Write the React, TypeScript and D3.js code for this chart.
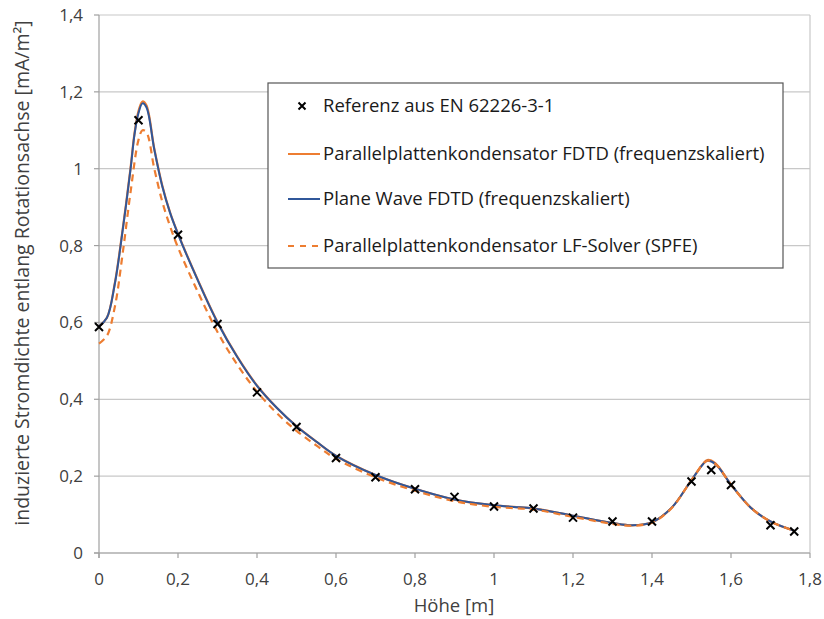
import React from "react";
import * as d3 from "d3";

const refX = [0, 0.1, 0.2, 0.3, 0.4, 0.5, 0.6, 0.7, 0.8, 0.9, 1.0, 1.1, 1.2, 1.3, 1.4, 1.5, 1.55, 1.6, 1.7, 1.76];
const refY = [0.588, 1.126, 0.828, 0.596, 0.418, 0.328, 0.247, 0.197, 0.166, 0.146, 0.121, 0.116, 0.092, 0.082, 0.082, 0.186, 0.216, 0.177, 0.072, 0.056];

const pwX = [0, 0.02, 0.04, 0.06, 0.08, 0.09, 0.1, 0.11, 0.12, 0.14, 0.16, 0.18, 0.2, 0.25, 0.3, 0.35, 0.4, 0.45, 0.5, 0.55, 0.6, 0.7, 0.8, 0.9, 1.0, 1.05, 1.1, 1.2, 1.3, 1.35, 1.4, 1.45, 1.5, 1.53, 1.54, 1.56, 1.6, 1.65, 1.7, 1.76];
const pwY = [0.59, 0.612, 0.7, 0.84, 1.0, 1.09, 1.145, 1.17, 1.16, 1.05, 0.955, 0.885, 0.83, 0.71, 0.6, 0.51, 0.435, 0.378, 0.33, 0.29, 0.253, 0.203, 0.167, 0.139, 0.124, 0.12, 0.116, 0.097, 0.078, 0.072, 0.08, 0.118, 0.19, 0.232, 0.24, 0.232, 0.178, 0.118, 0.082, 0.058];
const ppY = [0.59, 0.612, 0.702, 0.843, 1.003, 1.093, 1.15, 1.175, 1.165, 1.052, 0.957, 0.886, 0.831, 0.711, 0.601, 0.511, 0.436, 0.378, 0.33, 0.29, 0.253, 0.203, 0.167, 0.139, 0.124, 0.12, 0.116, 0.097, 0.078, 0.072, 0.08, 0.118, 0.19, 0.233, 0.242, 0.234, 0.178, 0.118, 0.082, 0.058];

const lfX = [0, 0.02, 0.04, 0.06, 0.08, 0.1, 0.11, 0.12, 0.14, 0.16, 0.18, 0.2, 0.25, 0.3, 0.35, 0.4, 0.45, 0.5, 0.55, 0.6, 0.7, 0.8, 0.9, 1.0, 1.1, 1.2, 1.3, 1.35, 1.4, 1.45, 1.5, 1.54, 1.56, 1.6, 1.65, 1.7, 1.76];
const lfY = [0.545, 0.565, 0.64, 0.78, 0.94, 1.075, 1.1, 1.095, 1.0, 0.915, 0.85, 0.795, 0.68, 0.575, 0.49, 0.42, 0.364, 0.318, 0.28, 0.245, 0.197, 0.162, 0.135, 0.12, 0.113, 0.094, 0.076, 0.071, 0.079, 0.117, 0.19, 0.24, 0.232, 0.178, 0.118, 0.082, 0.058];

const xTicks = [0, 0.2, 0.4, 0.6, 0.8, 1, 1.2, 1.4, 1.6, 1.8];
const yTicks = [0, 0.2, 0.4, 0.6, 0.8, 1, 1.2, 1.4];

const legendLabels = [
  "Referenz aus EN 62226-3-1",
  "Parallelplattenkondensator FDTD (frequenzskaliert)",
  "Plane Wave FDTD (frequenzskaliert)",
  "Parallelplattenkondensator LF-Solver (SPFE)",
];

const fmt = (v: number) => String(Math.round(v * 10) / 10).replace(".", ",");

export default function App() {
  const W = 824, H = 619;
  const left = 99, right = 810, top = 15, bottom = 553;
  const x = d3.scaleLinear().domain([0, 1.8]).range([left, right]);
  const y = d3.scaleLinear().domain([0, 1.4]).range([bottom, top]);
  const line = d3.line<[number, number]>().x(d => x(d[0])).y(d => y(d[1])).curve(d3.curveCatmullRom.alpha(0.5));
  const pw = line(pwX.map((v, i) => [v, pwY[i]] as [number, number])) || "";
  const pp = line(pwX.map((v, i) => [v, ppY[i]] as [number, number])) || "";
  const lf = line(lfX.map((v, i) => [v, lfY[i]] as [number, number])) || "";
  const font = "Open Sans, sans-serif";
  const orange = "#ED7D31";
  const blue = "#30579A";
  const textCol = "#404040";
  const cross = (cx: number, cy: number, k: number, s = 4) => (
    <path key={k} d={`M${cx - s},${cy - s}L${cx + s},${cy + s}M${cx - s},${cy + s}L${cx + s},${cy - s}`} stroke="#000" strokeWidth={2} />
  );
  const legRows = [106, 154, 199, 246];
  return (
    <svg width={W} height={H} style={{ position: "absolute", left: 0, top: 0, background: "#fff" }} fontFamily={font}>
      <rect x={0} y={0} width={W} height={H} fill="#fff" />
      {yTicks.map(t => (
        <line key={"g" + t} x1={left} x2={right} y1={y(t)} y2={y(t)} stroke="#c8c8c8" strokeWidth={1.2} />
      ))}
      <line x1={right} x2={right} y1={top} y2={bottom} stroke="#c8c8c8" strokeWidth={1.2} />
      <line x1={left} x2={left} y1={top} y2={bottom + 5} stroke="#a0a0a0" strokeWidth={1.2} />
      <line x1={left - 5} x2={right} y1={bottom} y2={bottom} stroke="#a0a0a0" strokeWidth={1.2} />
      {yTicks.map(t => (
        <g key={"y" + t}>
          <line x1={left - 5} x2={left} y1={y(t)} y2={y(t)} stroke="#a0a0a0" strokeWidth={1.2} />
          <text x={83} y={y(t) + 6} textAnchor="end" fontSize={17} fill={textCol}>{fmt(t)}</text>
        </g>
      ))}
      {xTicks.map(t => (
        <g key={"x" + t}>
          <line x1={x(t)} x2={x(t)} y1={bottom} y2={bottom + 5} stroke="#a0a0a0" strokeWidth={1.2} />
          <text x={x(t)} y={585} textAnchor="middle" fontSize={17} fill={textCol}>{fmt(t)}</text>
        </g>
      ))}
      <text x={454} y={612} textAnchor="middle" fontSize={18.5} fill={textCol}>Höhe [m]</text>
      <text transform={`translate(29,273) rotate(-90)`} textAnchor="middle" fontSize={19.5} fill={textCol}>
        induzierte Stromdichte entlang Rotationsachse [mA/m²]
      </text>
      <path d={pp} fill="none" stroke={orange} strokeWidth={2.2} />
      <path d={pw} fill="none" stroke={blue} strokeWidth={2} />
      <path d={lf} fill="none" stroke={orange} strokeWidth={2.2} strokeDasharray="7,5" />
      {refX.map((v, i) => cross(x(v), y(refY[i]), i))}
      <rect x={268} y={83} width={515} height={185} fill="#fff" stroke="#555" strokeWidth={1.2} />
      {cross(302, legRows[0], 100, 3.5)}
      <line x1={288} x2={320} y1={legRows[1]} y2={legRows[1]} stroke={orange} strokeWidth={2} />
      <line x1={288} x2={320} y1={legRows[2]} y2={legRows[2]} stroke={blue} strokeWidth={2} />
      <line x1={288} x2={320} y1={legRows[3]} y2={legRows[3]} stroke={orange} strokeWidth={2} strokeDasharray="6,6" />
      {legendLabels.map((l, i) => (
        <text key={l} x={323} y={legRows[i] + 6} fontSize={18.5} fill="#1a1a1a">{l}</text>
      ))}
    </svg>
  );
}
